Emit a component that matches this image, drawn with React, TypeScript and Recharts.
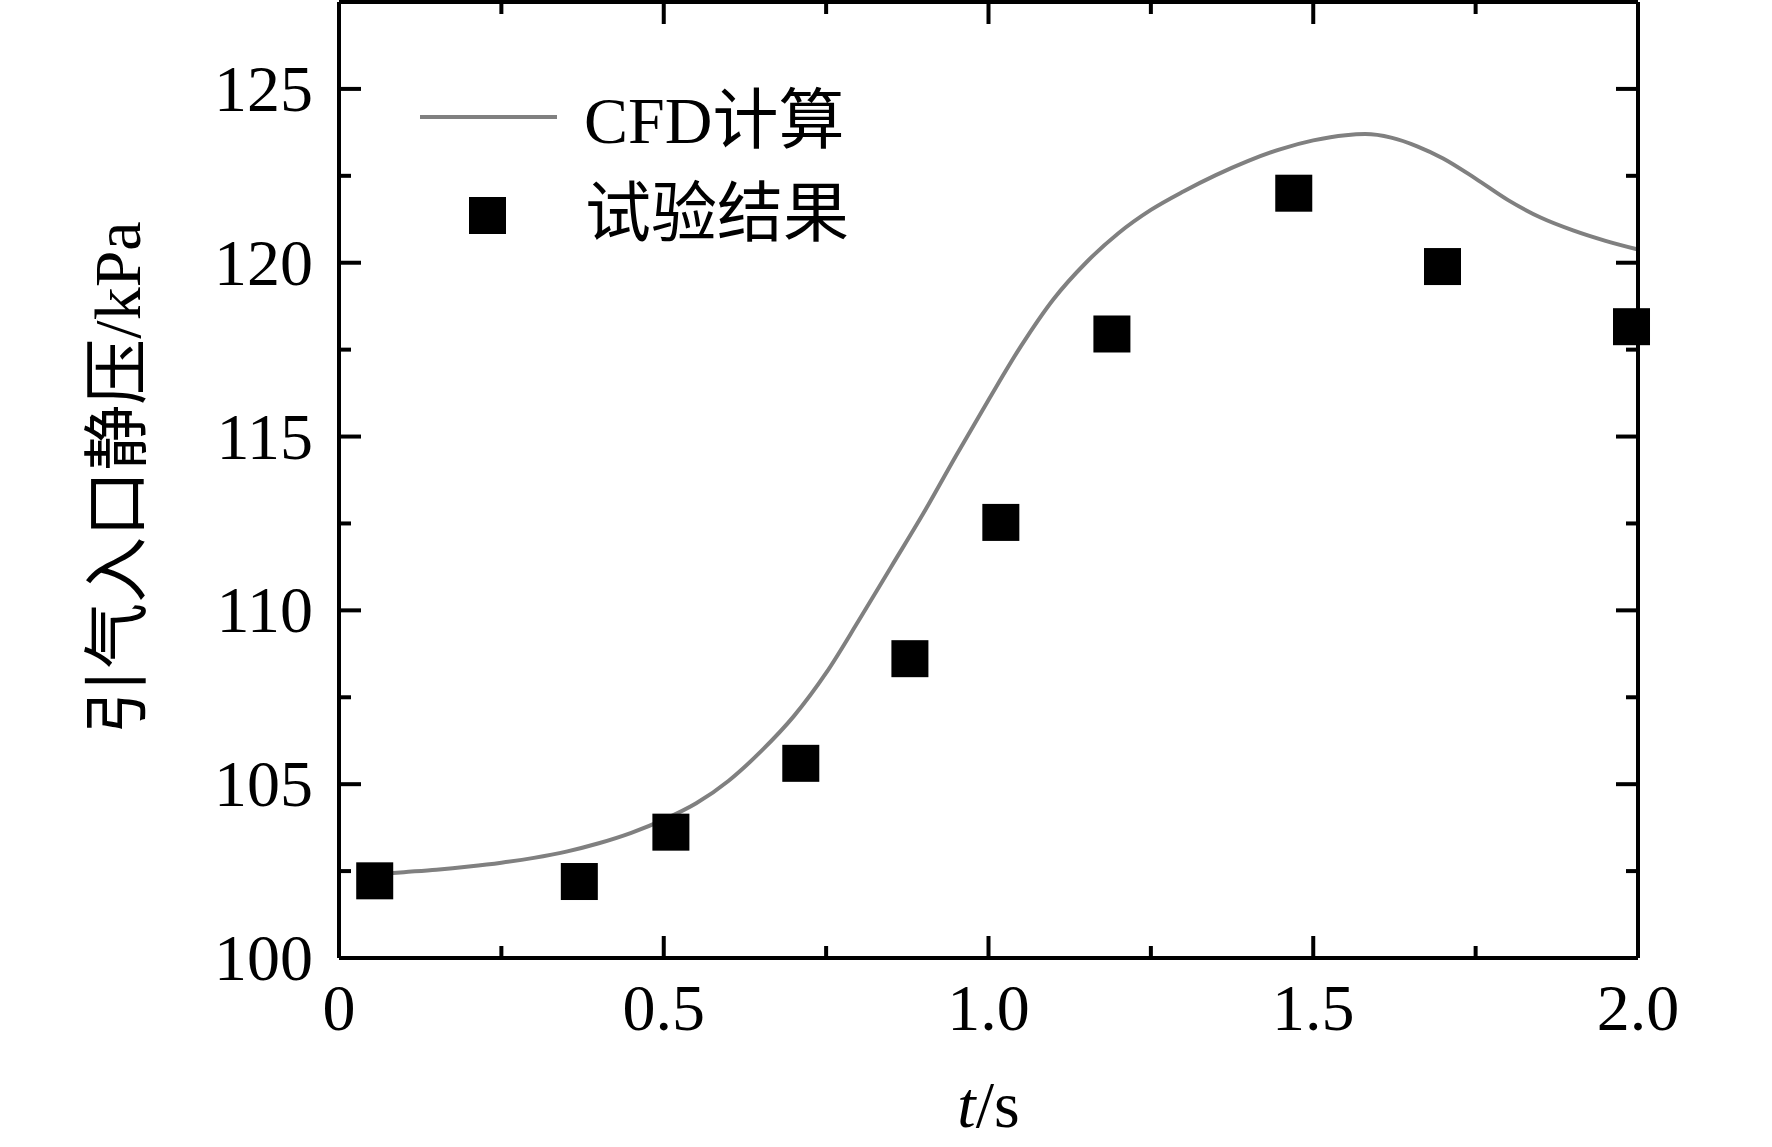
import React from 'react';
import {
    ComposedChart,
    Line,
    Scatter,
    XAxis,
    YAxis,
    Label
} from 'recharts';

// CFD curve
const cfdTime = [0.05, 0.10, 0.15, 0.20, 0.25, 0.30, 0.35, 0.40, 0.45, 0.50, 0.55, 0.60, 0.65, 0.70, 0.75, 0.80, 0.85, 0.90, 0.95, 1.00, 1.05, 1.10, 1.15, 1.20, 1.25, 1.30, 1.35, 1.40, 1.45, 1.50, 1.55, 1.58, 1.62, 1.66, 1.70, 1.75, 1.80, 1.85, 1.90, 1.95, 2.00];
const cfdPressure = [102.40, 102.47, 102.54, 102.63, 102.74, 102.88, 103.06, 103.30, 103.60, 103.98, 104.45, 105.10, 105.95, 106.95, 108.20, 109.70, 111.25, 112.80, 114.45, 116.05, 117.60, 118.95, 120.00, 120.85, 121.52, 122.05, 122.52, 122.93, 123.27, 123.52, 123.67, 123.70, 123.60, 123.35, 123.00, 122.42, 121.80, 121.30, 120.93, 120.63, 120.38];

// test measurements
const testTime = [0.055, 0.37, 0.511, 0.711, 0.879, 1.019, 1.19, 1.47, 1.699, 1.99];
const testPressure = [102.22, 102.2, 103.62, 105.6, 108.61, 112.53, 117.95, 122.0, 119.89, 118.16];

const xTicks = [0, 0.25, 0.5, 0.75, 1, 1.25, 1.5, 1.75, 2];
const xMajor = [0, 0.5, 1, 1.5, 2];
const xTickLabels = ['0', '0.5', '1.0', '1.5', '2.0'];
const yTicks = [100, 102.5, 105, 107.5, 110, 112.5, 115, 117.5, 120, 122.5, 125];
const yMajor = [100, 105, 110, 115, 120, 125];
const X_DOMAIN = [0, 2];
const Y_DOMAIN = [100, 127.5];

const cfdData = cfdTime.map((t, i) => ({ t, p: cfdPressure[i] }));
const testData = testTime.map((t, i) => ({ t, p: testPressure[i] }));

const W = 1772;
const H = 1147;
const MARGIN = { top: 1, right: 133, bottom: 0, left: 0 };
const Y_AXIS_W = 339;
const PLOT_TOP = 2;
const PLOT_LEFT = Y_AXIS_W;
const PLOT_RIGHT = W - 134;

const FONT = '"Liberation Serif", "Times New Roman", "Noto Sans CJK SC", serif';
const FS = 66;
const MAJOR = 22;
const MINOR = 12;
const AXIS = { stroke: '#000', strokeWidth: 4 };

const isMajorX = (v: number) => xMajor.some((m) => Math.abs(m - v) < 1e-6);
// same linear mapping as the chart's x axis (used for the top frame ticks)
const topX = (t: number) => PLOT_LEFT + ((t - X_DOMAIN[0]) / (X_DOMAIN[1] - X_DOMAIN[0])) * (PLOT_RIGHT - PLOT_LEFT);

const BottomTick = (props: any) => {
    const { x, y, payload } = props;
    const mi = xMajor.findIndex((m) => Math.abs(m - payload.value) < 1e-6);
    const len = mi >= 0 ? MAJOR : MINOR;
    return (
        <g>
            <line x1={x} y1={y} x2={x} y2={y - len} stroke="#000" strokeWidth={4} />
            {mi >= 0 && (
                <text x={x} y={y + 72} textAnchor="middle" fontFamily={FONT} fontSize={FS} fill="#000">
                    {xTickLabels[mi]}
                </text>
            )}
        </g>
    );
};

// left axis ticks, mirrored on the right frame edge
const LeftTick = (props: any) => {
    const { x, y, payload } = props;
    const mi = yMajor.findIndex((m) => Math.abs(m - payload.value) < 1e-6);
    const len = mi >= 0 ? MAJOR : MINOR;
    return (
        <g>
            <line x1={x} y1={y} x2={x + len} y2={y} stroke="#000" strokeWidth={4} />
            <line x1={PLOT_RIGHT} y1={y} x2={PLOT_RIGHT - len} y2={y} stroke="#000" strokeWidth={4} />
            {mi >= 0 && (
                <text x={x - 26} y={y + 22} textAnchor="end" fontFamily={FONT} fontSize={FS} fill="#000">
                    {String(payload.value)}
                </text>
            )}
        </g>
    );
};

const squareShape = (props: any) => {
    const { cx, cy } = props;
    return <rect x={cx - 18.5} y={cy - 18.5} width={37} height={37} fill="#000" />;
};

export default function App() {
    return (
        <div style={{ position: 'absolute', left: 0, top: 0, width: W, height: H, background: '#fff' }}>
            <ComposedChart width={W} height={H} margin={MARGIN}>
                <XAxis
                    dataKey="t"
                    type="number"
                    domain={X_DOMAIN}
                    ticks={xTicks}
                    interval={0}
                    height={189}
                    tickSize={0}
                    tickMargin={0}
                    tickLine={false}
                    tick={BottomTick}
                    axisLine={AXIS}
                >
                    <Label
                        content={(p: any) => {
                            const vb = p.viewBox;
                            return (
                                <text x={vb.x + vb.width / 2} y={vb.y + 169} textAnchor="middle" fontFamily={FONT} fontSize={FS} fill="#000">
                                    <tspan fontStyle="italic">t</tspan>/s
                                </text>
                            );
                        }}
                    />
                </XAxis>
                <XAxis
                    xAxisId="top"
                    dataKey="t"
                    type="number"
                    orientation="top"
                    domain={X_DOMAIN}
                    height={1}
                    tick={false}
                    tickLine={false}
                    axisLine={AXIS}
                />
                <YAxis
                    type="number"
                    domain={Y_DOMAIN}
                    ticks={yTicks}
                    interval={0}
                    width={Y_AXIS_W}
                    tickSize={0}
                    tickMargin={0}
                    tickLine={false}
                    tick={LeftTick}
                    axisLine={AXIS}
                >
                    <Label
                        content={(p: any) => {
                            const vb = p.viewBox;
                            const cx = vb.x + 140;
                            const cy = vb.y + vb.height / 2 - 2;
                            return (
                                <text
                                    x={cx}
                                    y={cy}
                                    transform={`rotate(-90 ${cx} ${cy})`}
                                    textAnchor="middle"
                                    fontFamily={FONT}
                                    fontSize={FS}
                                    fill="#000"
                                >
                                    引气入口静压/kPa
                                </text>
                            );
                        }}
                    />
                </YAxis>
                <YAxis
                    yAxisId="right"
                    type="number"
                    orientation="right"
                    domain={Y_DOMAIN}
                    width={1}
                    tick={false}
                    tickLine={false}
                    axisLine={AXIS}
                />
                <Line
                    data={cfdData}
                    dataKey="p"
                    name="CFD计算"
                    type="monotone"
                    stroke="#808080"
                    strokeWidth={4}
                    dot={false}
                    activeDot={false}
                    isAnimationActive={false}
                />
                <Scatter
                    data={testData}
                    dataKey="p"
                    name="试验结果"
                    shape={squareShape}
                    isAnimationActive={false}
                />
            </ComposedChart>
            {/* top frame ticks + legend */}
            <svg width={W} height={H} style={{ position: 'absolute', left: 0, top: 0, pointerEvents: 'none' }}>
                {xTicks.map((t) => (
                    <line
                        key={'top' + t}
                        x1={topX(t)}
                        y1={PLOT_TOP}
                        x2={topX(t)}
                        y2={PLOT_TOP + (isMajorX(t) ? MAJOR : MINOR)}
                        stroke="#000"
                        strokeWidth={4}
                    />
                ))}
                <line x1={420} y1={117} x2={557} y2={117} stroke="#808080" strokeWidth={4} />
                <text x={584} y={143} fontFamily={FONT} fontSize={FS} fill="#000">CFD计算</text>
                <rect x={469} y={197} width={37} height={37} fill="#000" />
                <text x={585} y={236} fontFamily={FONT} fontSize={FS} fill="#000">试验结果</text>
            </svg>
        </div>
    );
}
